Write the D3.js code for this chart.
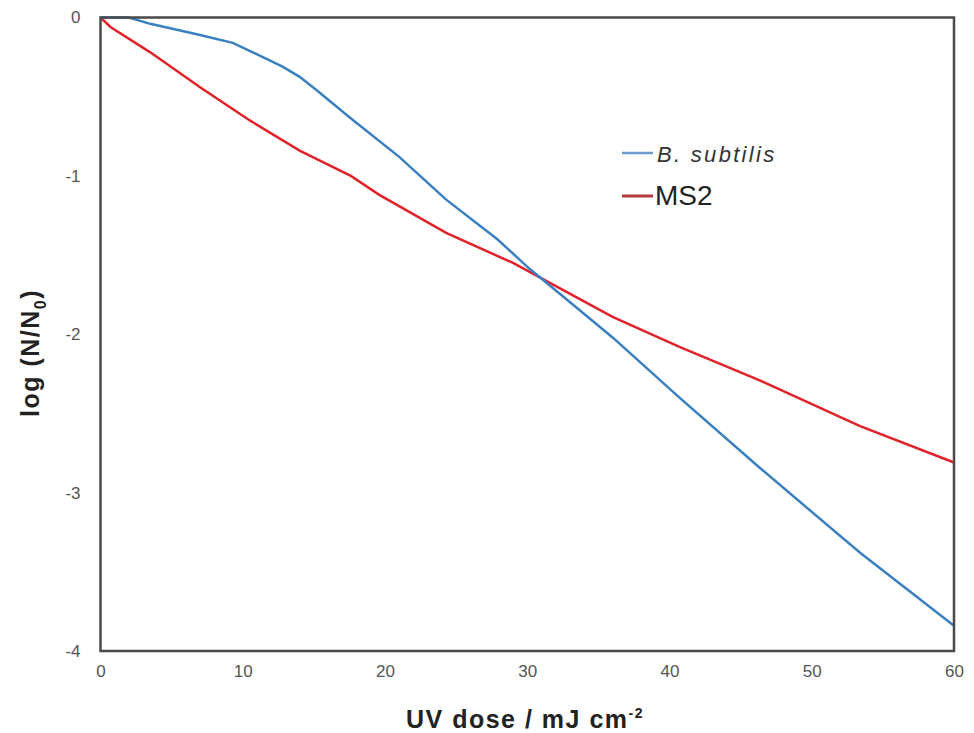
<!DOCTYPE html>
<html>
<head>
<meta charset="utf-8">
<script src="https://cdn.jsdelivr.net/npm/d3@7"></script>
<style>
  body { margin: 0; background: #fff; }
  svg { font-family: "Liberation Sans", Arial, sans-serif; }
</style>
</head>
<body>
<div id="chart-holder"></div>
<script>
// UV dose (mJ cm-2) and log inactivation
const subtilisDose = [0, 2, 3.5, 7, 9.3, 12.8, 14, 15.2, 17.5, 21, 24.3, 27.9, 30.2, 32.5, 36, 40.7, 46.3, 53.4, 60];
const subtilisLog = [0, 0, -0.04, -0.11, -0.16, -0.31, -0.375, -0.46, -0.63, -0.88, -1.15, -1.40, -1.59, -1.76, -2.02, -2.40, -2.84, -3.38, -3.84];
const ms2Dose = [0, 0.7, 3.5, 7, 10.5, 14, 17.6, 19.6, 24.3, 29, 32.5, 36, 40.7, 46.3, 53.4, 60];
const ms2Log = [0, -0.06, -0.22, -0.44, -0.65, -0.84, -1.0, -1.12, -1.36, -1.55, -1.72, -1.89, -2.08, -2.29, -2.58, -2.81];
const xTicks = [0, 10, 20, 30, 40, 50, 60];
const yTicks = [0, -1, -2, -3, -4];
const seriesNames = ["B. subtilis", "MS2"];

const width = 974;
const height = 733;
const marginTop = 17.5;
const marginRight = 20;
const marginBottom = 82;
const marginLeft = 100.5;

const x = d3.scaleLinear().domain([0, 60]).range([marginLeft, width - marginRight]);
const y = d3.scaleLinear().domain([-4, 0]).range([height - marginBottom, marginTop]);

const svg = d3
  .select("#chart-holder")
  .append("svg")
  .attr("width", width)
  .attr("height", height);

// axis labels only, no tick marks
const xAxis = svg
  .append("g")
  .attr("transform", `translate(0,${height - marginBottom})`)
  .call(d3.axisBottom(x).tickValues(xTicks).tickFormat((d) => String(d)).tickSize(0).tickPadding(14));
xAxis.select(".domain").remove();
xAxis.selectAll("text").attr("font-size", 17).attr("fill", "#555").attr("font-family", "inherit");

const yAxis = svg
  .append("g")
  .attr("transform", `translate(${marginLeft},0)`)
  .call(d3.axisLeft(y).tickValues(yTicks).tickFormat((d) => String(d)).tickSize(0).tickPadding(20));
yAxis.select(".domain").remove();
yAxis.selectAll("text").attr("font-size", 17).attr("fill", "#555").attr("font-family", "inherit");

const line = d3.line().x((d) => x(d[0])).y((d) => y(d[1]));

svg
  .append("path")
  .datum(ms2Dose.map((d, i) => [d, ms2Log[i]]))
  .attr("fill", "none")
  .attr("stroke", "#e0232b")
  .attr("stroke-width", 2.5)
  .attr("d", line);

svg
  .append("path")
  .datum(subtilisDose.map((d, i) => [d, subtilisLog[i]]))
  .attr("fill", "none")
  .attr("stroke", "#3a80c0")
  .attr("stroke-width", 2.5)
  .attr("d", line);

// frame
svg
  .append("rect")
  .attr("x", x(0))
  .attr("y", y(0))
  .attr("width", x(60) - x(0))
  .attr("height", y(-4) - y(0))
  .attr("fill", "none")
  .attr("stroke", "#4a4a4a")
  .attr("stroke-width", 2.5);

// legend
const legend = svg.append("g").attr("transform", "translate(622,0)");
legend.append("line").attr("x1", 0).attr("x2", 31).attr("y1", 153).attr("y2", 153)
  .attr("stroke", "#6a9ccc").attr("stroke-width", 2.5);
legend.append("text").attr("x", 35).attr("y", 162).attr("font-size", 22)
  .attr("letter-spacing", 2.3).attr("font-style", "italic").attr("fill", "#333").text(seriesNames[0]);
legend.append("line").attr("x1", 0).attr("x2", 31).attr("y1", 196).attr("y2", 196)
  .attr("stroke", "#b53a3e").attr("stroke-width", 3);
legend.append("text").attr("x", 33).attr("y", 205).attr("font-size", 28)
  .attr("fill", "#222").text(seriesNames[1]);

// axis titles
const xTitle = svg.append("text")
  .attr("x", 525)
  .attr("y", 728)
  .attr("text-anchor", "middle")
  .attr("font-size", 25)
  .attr("letter-spacing", 1.5)
  .attr("font-weight", "bold")
  .attr("fill", "#222");
xTitle.append("tspan").text("UV dose / mJ cm");
xTitle.append("tspan").attr("dy", -10).attr("font-size", 14).text("-2");

const yTitle = svg.append("text")
  .attr("transform", "translate(39,353) rotate(-90)")
  .attr("text-anchor", "middle")
  .attr("font-size", 25)
  .attr("letter-spacing", 1.5)
  .attr("font-weight", "bold")
  .attr("fill", "#222");
yTitle.append("tspan").text("log (N/N");
yTitle.append("tspan").attr("dy", 7).attr("font-size", 16).text("0");
yTitle.append("tspan").attr("dy", -7).text(")");
</script>
</body>
</html>
